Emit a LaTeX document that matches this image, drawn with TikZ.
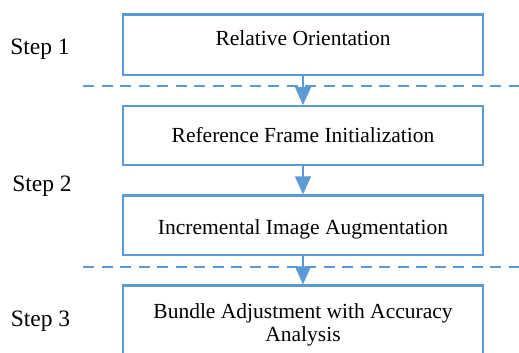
\documentclass[tikz,border=0pt]{standalone}
\usepackage{fontspec}
\setmainfont{Liberation Serif}
\usetikzlibrary{arrows.meta}
\definecolor{flowblue}{HTML}{5B9BD5}
\newcommand\stagefont{\fontsize{21.5pt}{21.7pt}\selectfont}
\newcommand\steptextfont{\fontsize{23.5pt}{26pt}\selectfont}
\begin{document}
\begin{tikzpicture}[x=1pt, y={(0pt,-1pt)},
  stage/.style={draw=flowblue, line width=2.2pt, minimum width=359.8pt,
    inner sep=0pt, align=center, font=\stagefont},
  oneline/.style={text height=14.2pt, text depth=0pt},
  steplabel/.style={anchor=base, font=\steptextfont},
  flow/.style={draw=flowblue, line width=1.3pt,
    -{Triangle[width=16pt,length=18pt]}},
  divider/.style={draw=flowblue, line width=2.2pt,
    dash pattern=on 11pt off 7.5pt}]
  \useasboundingbox (0,0) rectangle (519,353);
  \clip (0,0) rectangle (519,353);

  % process stages
  \node[stage, oneline, minimum height=60pt, text depth=13.2pt]
    (orient) at (303,44.6) {Relative Orientation};
  \node[stage, oneline, minimum height=58.8pt]
    (refframe) at (303,135.5) {Reference Frame Initialization};
  \node[stage, oneline, minimum height=59.5pt, text height=17.8pt]
    (augment) at (303,225.2) {Incremental Image Augmentation};
  \node[stage, minimum height=79pt]
    (bundle) at (303,325) {Bundle Adjustment with Accuracy\\[1.5pt]Analysis};

  % step labels
  \node[steplabel] (stepA) at (40,54.5) {Step 1};
  \node[steplabel] (stepB) at (42,191) {Step 2};
  \node[steplabel] (stepC) at (40.5,326) {Step 3};

  % dashed separators between steps
  \coordinate (cutAw) at (83,86.3);
  \coordinate (cutAe) at (519,86.3);
  \coordinate (cutBw) at (83,267.3);
  \coordinate (cutBe) at (519,267.3);
  \draw[divider] (cutAw) -- (cutAe);
  \draw[divider] (cutBw) -- (cutBe);

  % flow arrows
  \draw[flow] (orient.south) -- (refframe.north);
  \draw[flow] (refframe.south) -- (augment.north);
  \draw[flow] (augment.south) -- (bundle.north);
\end{tikzpicture}
\end{document}
